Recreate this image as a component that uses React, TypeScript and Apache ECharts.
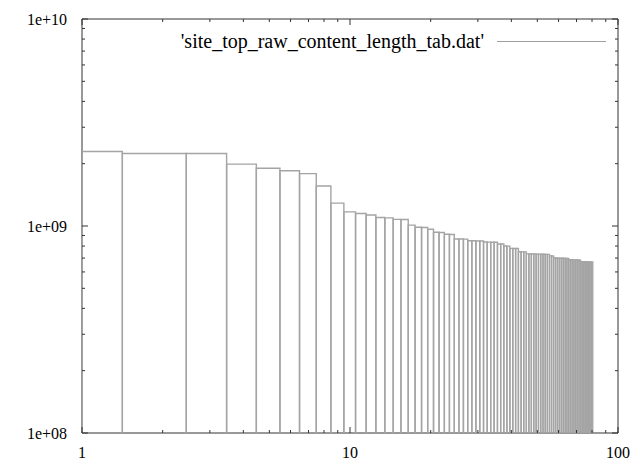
import React, { useEffect, useRef } from "react";
import * as echarts from "echarts";

const seriesName = "'site_top_raw_content_length_tab.dat'";

// rank of each site (x) and its raw content length in bytes (y)
const ranks: number[] = Array.from({ length: 80 }, (_, i) => i + 1);
const contentLength: number[] = [
  2.29e9, 2.24e9, 2.24e9, 1.99e9, 1.9e9, 1.85e9, 1.79e9, 1.56e9, 1.29e9, 1.17e9,
  1.15e9, 1.13e9, 1.1e9, 1.095e9, 1.077e9, 1.075e9, 1.01e9, 0.986e9, 0.984e9, 0.964e9,
  0.933e9, 0.931e9, 0.912e9, 0.91e9, 0.866e9, 0.865e9, 0.864e9, 0.849e9, 0.848e9, 0.847e9,
  0.846e9, 0.837e9, 0.836e9, 0.835e9, 0.834e9, 0.819e9, 0.818e9, 0.8e9, 0.799e9, 0.78e9,
  0.779e9, 0.778e9, 0.751e9, 0.75e9, 0.749e9, 0.733e9, 0.733e9, 0.732e9, 0.732e9, 0.731e9,
  0.731e9, 0.73e9, 0.73e9, 0.729e9, 0.729e9, 0.717e9, 0.716e9, 0.7e9, 0.7e9, 0.699e9,
  0.699e9, 0.698e9, 0.698e9, 0.697e9, 0.697e9, 0.687e9, 0.687e9, 0.686e9, 0.686e9, 0.685e9,
  0.685e9, 0.684e9, 0.673e9, 0.673e9, 0.672e9, 0.672e9, 0.671e9, 0.671e9, 0.67e9, 0.67e9,
];

const xMin = 1;
const xMax = 100;
const yMin = 1e8;
const yMax = 1e10;
const xMajorTicks: number[] = [1, 10, 100];
const xMinorTicks: number[] = [2, 3, 4, 5, 6, 7, 8, 9, 20, 30, 40, 50, 60, 70, 80, 90];
const yMajorTicks: number[] = [1e8, 1e9, 1e10];
const yMinorTicks: number[] = [
  2e8, 3e8, 4e8, 5e8, 6e8, 7e8, 8e8, 9e8, 2e9, 3e9, 4e9, 5e9, 6e9, 7e9, 8e9, 9e9,
];

const FONT = "Liberation Serif, Times New Roman, DejaVu Serif, serif";

export default function App() {
  const ref = useRef<HTMLDivElement>(null);
  useEffect(() => {
    if (!ref.current) return;
    document.body.style.margin = "0";
    const chart = echarts.init(ref.current, null, { renderer: "svg" });
    const boxData = ranks.map((r, i) => [r, contentLength[i]]);
    const tickData: any[] = [];
    xMajorTicks.forEach((t) => tickData.push([t, yMin, 0, 1]));
    xMinorTicks.forEach((t) => tickData.push([t, yMin, 0, 0]));
    yMajorTicks.forEach((t) => tickData.push([xMin, t, 1, 1]));
    yMinorTicks.forEach((t) => tickData.push([xMin, t, 1, 0]));

    chart.setOption({
      animation: false,
      backgroundColor: "#ffffff",
      textStyle: { fontFamily: FONT },
      grid: {
        left: 82,
        right: 22,
        top: 19,
        bottom: 38,
        show: true,
        borderColor: "#333333",
        borderWidth: 1,
        backgroundColor: "transparent",
      },
      xAxis: {
        type: "log",
        logBase: 10,
        min: xMin,
        max: xMax,
        axisLine: { show: false },
        axisTick: { show: false },
        splitLine: { show: false },
        axisLabel: {
          color: "#000",
          fontFamily: FONT,
          fontSize: 16,
          margin: 11,
          formatter: (v: number) => String(Math.round(v)),
        },
      },
      yAxis: {
        type: "log",
        logBase: 10,
        min: yMin,
        max: yMax,
        axisLine: { show: false },
        axisTick: { show: false },
        splitLine: { show: false },
        axisLabel: {
          color: "#000",
          fontFamily: FONT,
          fontSize: 16,
          margin: 15,
          formatter: (v: number) =>
            "1e+" + String(Math.round(Math.log10(v))).padStart(2, "0"),
        },
      },
      graphic: [
        {
          type: "text",
          x: 484,
          y: 41,
          style: {
            text: seriesName,
            fill: "#000",
            fontFamily: FONT,
            fontSize: 20,
            textAlign: "right",
            textVerticalAlign: "middle",
          },
        },
        {
          type: "line",
          shape: { x1: 497, y1: 41.5, x2: 606, y2: 41.5 },
          style: { stroke: "#a0a0a0", lineWidth: 1 },
        },
      ],
      series: [
        {
          type: "custom",
          name: seriesName,
          clip: true,
          data: boxData,
          encode: { x: 0, y: 1 },
          renderItem: (params: any, api: any) => {
            const n = api.value(0);
            const v = api.value(1);
            const xl = Math.max(xMin, Math.sqrt((n - 1) * n));
            const xr = Math.sqrt(n * (n + 1));
            const p0 = api.coord([xl, v]);
            const p1 = api.coord([xr, v]);
            const yb = api.coord([xl, yMin])[1];
            return {
              type: "polyline",
              shape: {
                points: [
                  [p0[0], yb],
                  [p0[0], p0[1]],
                  [p1[0], p1[1]],
                  [p1[0], yb],
                ],
              },
              style: { stroke: "#a4a4a4", fill: null, lineWidth: 1.4 },
            };
          },
        },
        {
          type: "custom",
          clip: false,
          silent: true,
          data: tickData,
          encode: { x: 0, y: 1 },
          renderItem: (params: any, api: any) => {
            const vx = api.value(0);
            const vy = api.value(1);
            const isY = api.value(2) === 1;
            const major = api.value(3) === 1;
            const len = major ? 6 : 3;
            const children: any[] = [];
            const st = { stroke: "#333333", lineWidth: 1 };
            if (!isY) {
              const b = api.coord([vx, yMin]);
              const t = api.coord([vx, yMax]);
              children.push({ type: "line", shape: { x1: b[0], y1: b[1], x2: b[0], y2: b[1] - len }, style: st });
              children.push({ type: "line", shape: { x1: t[0], y1: t[1], x2: t[0], y2: t[1] + len }, style: st });
            } else {
              const l = api.coord([xMin, vy]);
              const r = api.coord([xMax, vy]);
              children.push({ type: "line", shape: { x1: l[0], y1: l[1], x2: l[0] + len, y2: l[1] }, style: st });
              children.push({ type: "line", shape: { x1: r[0], y1: r[1], x2: r[0] - len, y2: r[1] }, style: st });
            }
            return { type: "group", children };
          },
        },
      ],
    });
    return () => chart.dispose();
  }, []);
  return <div ref={ref} style={{ width: 640, height: 471 }} />;
}
